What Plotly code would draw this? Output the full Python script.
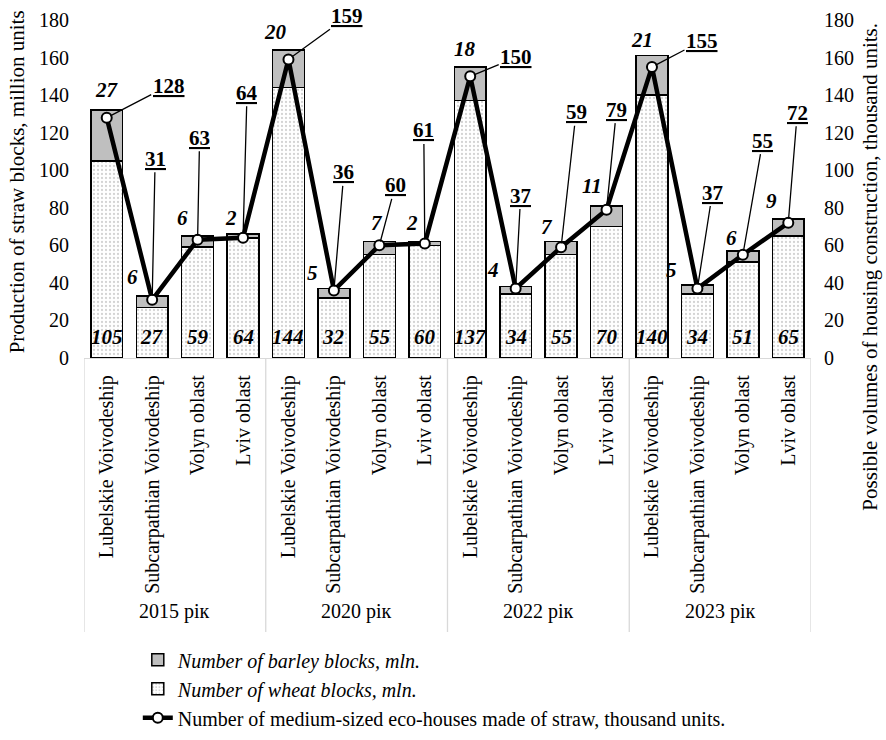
import plotly.graph_objects as go

years = ["2015 рік", "2020 рік", "2022 рік", "2023 рік"]
regions = ["Lubelskie Voivodeship", "Subcarpathian Voivodeship", "Volyn oblast", "Lviv oblast"]

wheat = [105, 27, 59, 64, 144, 32, 55, 60, 137, 34, 55, 70, 140, 34, 51, 65]
barley = [27, 6, 6, 2, 20, 5, 7, 2, 18, 4, 7, 11, 21, 5, 6, 9]
houses = [128, 31, 63, 64, 159, 36, 60, 61, 150, 37, 59, 79, 155, 37, 55, 72]

# label offsets in pixels (placement only)
barley_dx = [0, -20, -15, -12, -13, -21, -2, -13, -5, -23, -14, -15, -10, -26, -11, -17]
barley_dy = [20, 19, 18, 16, 18, 16, 19, 19, 18, 17, 15, 20, 16, 15, 13, 18]
house_ax = [62, 3, 2, 4, 59, 10, 16, -1, 46, 5, 15, 10, 50, 15, 20, 9]
house_ay = [-32, -141, -102, -145, -43, -118, -60, -113, -19, -93, -135, -100, -26, -96, -114, -110]

FONT = "Liberation Serif, Times New Roman, serif"
n_reg = len(regions)
x = list(range(len(wheat)))
ticktext = [regions[i % n_reg] for i in x]

fig = go.Figure()
fig.add_trace(go.Bar(
    x=x, y=wheat, name="<i>Number of wheat blocks, mln.</i>", legendrank=2,
    marker=dict(color="white", line=dict(color="black", width=1.5),
                pattern=dict(shape=".", fgcolor="#a8a8a8", bgcolor="white", size=4, solidity=0.25)),
))
fig.add_trace(go.Bar(
    x=x, y=barley, name="<i>Number of barley blocks, mln.</i>", legendrank=1,
    marker=dict(color="#bfbfbf", line=dict(color="black", width=1.5)),
))
fig.add_trace(go.Scatter(
    x=x, y=houses, yaxis="y2", mode="lines+markers", legendrank=3,
    name="Number of medium-sized eco-houses made of straw, thousand units.",
    line=dict(color="black", width=4.5),
    marker=dict(symbol="circle", size=10, color="white", line=dict(color="black", width=2)),
))

lab_font = dict(family=FONT, size=21, color="black")
ann = []
for i in x:
    ann.append(dict(x=i, y=0, yref="y", yshift=21, showarrow=False,
                    text=f"<b><i>{wheat[i]}</i></b>", font=lab_font))
    ann.append(dict(x=i, y=wheat[i] + barley[i], yref="y", xshift=barley_dx[i], yshift=barley_dy[i],
                    showarrow=False, text=f"<b><i>{barley[i]}</i></b>", font=lab_font))
    ann.append(dict(x=i, y=houses[i], yref="y2", ax=house_ax[i], ay=house_ay[i],
                    showarrow=True, arrowhead=0, arrowwidth=1.3, arrowcolor="black", standoff=4,
                    text=f"<b><u>{houses[i]}</u></b>", font=lab_font))

for g, yr in enumerate(years):
    ann.append(dict(x=g * n_reg + (n_reg - 1) / 2, y=-0.751, yref="paper", showarrow=False,
                    xanchor="center", yanchor="middle",
                    text=yr, font=dict(family=FONT, size=20, color="black")))

# axis titles
ann.append(dict(x=-0.092, y=0.52, xref="paper", yref="paper", showarrow=False, textangle=-90,
                xanchor="center", yanchor="middle",
                text="Production of straw blocks, million units",
                font=dict(family=FONT, size=21, color="black")))
ann.append(dict(x=1.081, y=0.27, xref="paper", yref="paper", showarrow=False, textangle=-90,
                xanchor="center", yanchor="middle",
                text="Possible volumes of housing construction, thousand units.",
                font=dict(family=FONT, size=21, color="black")))

shapes = []
for g in range(len(years) + 1):
    shapes.append(dict(type="line", xref="x", yref="paper", x0=g * n_reg - 0.5, x1=g * n_reg - 0.5,
                       y0=0, y1=-0.811, line=dict(color="#d9d9d9", width=1.3)))

fig.update_layout(
    width=886, height=740,
    margin=dict(l=84, r=75, t=20, b=382, autoexpand=False),
    barmode="stack", bargap=0.3,
    paper_bgcolor="white", plot_bgcolor="white",
    font=dict(family=FONT, size=20, color="black"),
    showlegend=True,
    legend=dict(x=0.074, y=-0.835, xanchor="left", yanchor="top", traceorder="normal",
                font=dict(family=FONT, size=20, color="black"), tracegroupgap=0,
                bgcolor="rgba(0,0,0,0)"),
    xaxis=dict(range=[-0.5, 15.5], tickmode="array", tickvals=x, ticktext=ticktext, tickangle=-90,
               ticks="outside", ticklen=8, tickcolor="rgba(0,0,0,0)", automargin=False,
               showline=True, linecolor="#d9d9d9", linewidth=1.3, showgrid=False, zeroline=False,
               tickfont=dict(family=FONT, size=20, color="black")),
    yaxis=dict(range=[0, 180], dtick=20, showgrid=False, zeroline=False, showline=False,
               ticks="outside", ticklen=10, tickcolor="rgba(0,0,0,0)", automargin=False,
               tickfont=dict(family=FONT, size=20, color="black")),
    yaxis2=dict(range=[0, 180], dtick=20, overlaying="y", side="right", showgrid=False,
                zeroline=False, showline=False, ticks="outside", ticklen=8, tickcolor="rgba(0,0,0,0)",
                automargin=False, tickfont=dict(family=FONT, size=20, color="black")),
    annotations=ann, shapes=shapes,
)

fig.write_html("out.html", config={"displayModeBar": False},
               post_script="document.body.style.margin='0';")
